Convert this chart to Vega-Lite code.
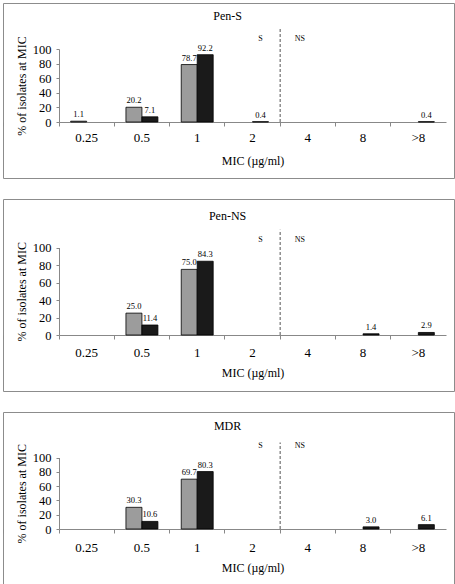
{
  "$schema": "https://vega.github.io/schema/vega-lite/v6.json",
  "padding": {"top": 2, "left": 2, "right": 0, "bottom": 0},
  "spacing": 19,
  "config": {
    "font": "Liberation Serif",
    "view": {"stroke": "#8c8c8c", "strokeWidth": 1},
    "axis": {"labelColor": "#000", "titleColor": "#000", "titleFontWeight": "normal", "domainColor": "#888", "tickColor": "#888", "grid": false, "labelFont": "Liberation Serif", "titleFont": "Liberation Serif"},
    "axisY": {"labelOverlap": false, "labelBound": false, "labelSeparation": -20, "tickCount": 5, "labelFontSize": 12.5, "tickSize": 3, "labelPadding": 5, "titleFontSize": 12, "titleX": -37.3, "titleBaseline": "middle", "offset": -56}
  },
  "datasets": {
    "bars": [
      {"panel": "Pen-S", "mic": "0.25", "series": "s1", "value": 1.1},
      {"panel": "Pen-S", "mic": "0.5", "series": "s1", "value": 20.2},
      {"panel": "Pen-S", "mic": "1", "series": "s1", "value": 78.7},
      {"panel": "Pen-S", "mic": "0.5", "series": "s2", "value": 7.1},
      {"panel": "Pen-S", "mic": "1", "series": "s2", "value": 92.2},
      {"panel": "Pen-S", "mic": "2", "series": "s2", "value": 0.4},
      {"panel": "Pen-S", "mic": ">8", "series": "s2", "value": 0.4},
      {"panel": "Pen-NS", "mic": "0.5", "series": "s1", "value": 25.0},
      {"panel": "Pen-NS", "mic": "1", "series": "s1", "value": 75.0},
      {"panel": "Pen-NS", "mic": "0.5", "series": "s2", "value": 11.4},
      {"panel": "Pen-NS", "mic": "1", "series": "s2", "value": 84.3},
      {"panel": "Pen-NS", "mic": "8", "series": "s2", "value": 1.4},
      {"panel": "Pen-NS", "mic": ">8", "series": "s2", "value": 2.9},
      {"panel": "MDR", "mic": "0.5", "series": "s1", "value": 30.3},
      {"panel": "MDR", "mic": "1", "series": "s1", "value": 69.7},
      {"panel": "MDR", "mic": "0.5", "series": "s2", "value": 10.6},
      {"panel": "MDR", "mic": "1", "series": "s2", "value": 80.3},
      {"panel": "MDR", "mic": "8", "series": "s2", "value": 3.0},
      {"panel": "MDR", "mic": ">8", "series": "s2", "value": 6.1}
    ],
    "zones": [
      {"mic": "2", "series": "s2", "label": "S"},
      {"mic": "4", "series": "s1", "label": "NS"}
    ],
    "cut": [{"mic": "4"}],
    "titles": [
      {"panel": "Pen-S", "mic": "2", "label": "Pen-S"},
      {"panel": "Pen-NS", "mic": "2", "label": "Pen-NS"},
      {"panel": "MDR", "mic": "2", "label": "MDR"}
    ]
  },
  "vconcat": [
    {
      "width": 451, "height": 175,
      "layer": [
        {
          "data": {"name": "bars"},
          "transform": [{"filter": "datum.panel === 'Pen-S'"}],
          "mark": {"type": "bar", "stroke": "#000", "strokeWidth": 0.8},
          "encoding": {
            "x": {"field": "mic", "type": "nominal", "sort": null,
              "scale": {"domain": ["0.25", "0.5", "1", "2", "4", "8", ">8"], "range": [56, 443], "paddingInner": 0, "paddingOuter": 0},
              "axis": {"title": "MIC (µg/ml)", "labelAngle": 0, "bandPosition": 0, "tickExtra": true, "offset": -56, "tickSize": 4, "labelPadding": 5.5, "labelFontSize": 13, "titleFontSize": 12, "titleY": 38.3, "titleBaseline": "middle"}},
            "xOffset": {"field": "series", "scale": {"domain": ["s1", "s2"], "paddingInner": 0, "paddingOuter": 0.73}},
            "y": {"field": "value", "type": "quantitative",
              "scale": {"domain": [0, 100], "range": [119, 46], "nice": false},
              "axis": {"title": "% of isolates at MIC", "labelOverlap": false}},
            "color": {"field": "series", "scale": {"domain": ["s1", "s2"], "range": ["#9c9c9c", "#1a1a1a"]}, "legend": null}
          }
        },
        {
          "data": {"name": "bars"},
          "transform": [{"filter": "datum.panel === 'Pen-S'"}],
          "mark": {"type": "text", "fontSize": 8.5, "baseline": "bottom", "dy": -2, "fill": "#000"},
          "encoding": {
            "x": {"field": "mic", "type": "nominal"},
            "xOffset": {"field": "series"},
            "y": {"field": "value", "type": "quantitative"},
            "text": {"field": "value", "type": "quantitative", "format": ".1f"}
          }
        },
        {
          "data": {"name": "cut"},
          "mark": {"type": "rule", "strokeDash": [3, 2], "color": "#555", "strokeWidth": 1},
          "encoding": {
            "x": {"field": "mic", "type": "nominal", "bandPosition": 0},
            "y": {"datum": 0},
            "y2": {"datum": 127.4}
          }
        },
        {
          "data": {"name": "zones"},
          "mark": {"type": "text", "fontSize": 8, "fill": "#000"},
          "encoding": {
            "x": {"field": "mic", "type": "nominal"},
            "xOffset": {"field": "series"},
            "y": {"datum": 113.3},
            "text": {"field": "label"}
          }
        },
        {
          "data": {"name": "titles"},
          "transform": [{"filter": "datum.panel === 'Pen-S'"}],
          "mark": {"type": "text", "fontSize": 12, "fill": "#000"},
          "encoding": {
            "x": {"field": "mic", "type": "nominal", "bandPosition": 0.05},
            "y": {"datum": 145},
            "text": {"field": "label"}
          }
        }
      ]
    },
    {
      "width": 451, "height": 192,
      "layer": [
        {
          "data": {"name": "bars"},
          "transform": [{"filter": "datum.panel === 'Pen-NS'"}],
          "mark": {"type": "bar", "stroke": "#000", "strokeWidth": 0.8},
          "encoding": {
            "x": {"field": "mic", "type": "nominal", "sort": null,
              "scale": {"domain": ["0.25", "0.5", "1", "2", "4", "8", ">8"], "range": [56, 443], "paddingInner": 0, "paddingOuter": 0},
              "axis": {"title": "MIC (µg/ml)", "labelAngle": 0, "bandPosition": 0, "tickExtra": true, "offset": -56, "tickSize": 4, "labelPadding": 7, "labelFontSize": 13, "titleFontSize": 12, "titleY": 37.3, "titleBaseline": "middle"}},
            "xOffset": {"field": "series", "scale": {"domain": ["s1", "s2"], "paddingInner": 0, "paddingOuter": 0.73}},
            "y": {"field": "value", "type": "quantitative",
              "scale": {"domain": [0, 100], "range": [136, 48.5], "nice": false},
              "axis": {"title": "% of isolates at MIC", "labelOverlap": false}},
            "color": {"field": "series", "scale": {"domain": ["s1", "s2"], "range": ["#9c9c9c", "#1a1a1a"]}, "legend": null}
          }
        },
        {
          "data": {"name": "bars"},
          "transform": [{"filter": "datum.panel === 'Pen-NS'"}],
          "mark": {"type": "text", "fontSize": 8.5, "baseline": "bottom", "dy": -2, "fill": "#000"},
          "encoding": {
            "x": {"field": "mic", "type": "nominal"},
            "xOffset": {"field": "series"},
            "y": {"field": "value", "type": "quantitative"},
            "text": {"field": "value", "type": "quantitative", "format": ".1f"}
          }
        },
        {
          "data": {"name": "cut"},
          "mark": {"type": "rule", "strokeDash": [3, 2], "color": "#555", "strokeWidth": 1},
          "encoding": {
            "x": {"field": "mic", "type": "nominal", "bandPosition": 0},
            "y": {"datum": 0},
            "y2": {"datum": 120.3}
          }
        },
        {
          "data": {"name": "zones"},
          "mark": {"type": "text", "fontSize": 8, "fill": "#000"},
          "encoding": {
            "x": {"field": "mic", "type": "nominal"},
            "xOffset": {"field": "series"},
            "y": {"datum": 109},
            "text": {"field": "label"}
          }
        },
        {
          "data": {"name": "titles"},
          "transform": [{"filter": "datum.panel === 'Pen-NS'"}],
          "mark": {"type": "text", "fontSize": 12, "fill": "#000"},
          "encoding": {
            "x": {"field": "mic", "type": "nominal", "bandPosition": 0.05},
            "y": {"datum": 135.7},
            "text": {"field": "label"}
          }
        }
      ]
    },
    {
      "width": 451, "height": 174,
      "layer": [
        {
          "data": {"name": "bars"},
          "transform": [{"filter": "datum.panel === 'MDR'"}],
          "mark": {"type": "bar", "stroke": "#000", "strokeWidth": 0.8},
          "encoding": {
            "x": {"field": "mic", "type": "nominal", "sort": null,
              "scale": {"domain": ["0.25", "0.5", "1", "2", "4", "8", ">8"], "range": [56, 443], "paddingInner": 0, "paddingOuter": 0},
              "axis": {"title": "MIC (µg/ml)", "labelAngle": 0, "bandPosition": 0, "tickExtra": true, "offset": -57, "tickSize": 4, "labelPadding": 8, "labelFontSize": 13, "titleFontSize": 12, "titleY": 38, "titleBaseline": "middle"}},
            "xOffset": {"field": "series", "scale": {"domain": ["s1", "s2"], "paddingInner": 0, "paddingOuter": 0.73}},
            "y": {"field": "value", "type": "quantitative",
              "scale": {"domain": [0, 100], "range": [117, 45.5], "nice": false},
              "axis": {"title": "% of isolates at MIC", "labelOverlap": false}},
            "color": {"field": "series", "scale": {"domain": ["s1", "s2"], "range": ["#9c9c9c", "#1a1a1a"]}, "legend": null}
          }
        },
        {
          "data": {"name": "bars"},
          "transform": [{"filter": "datum.panel === 'MDR'"}],
          "mark": {"type": "text", "fontSize": 8.5, "baseline": "bottom", "dy": -2, "fill": "#000"},
          "encoding": {
            "x": {"field": "mic", "type": "nominal"},
            "xOffset": {"field": "series"},
            "y": {"field": "value", "type": "quantitative"},
            "text": {"field": "value", "type": "quantitative", "format": ".1f"}
          }
        },
        {
          "data": {"name": "cut"},
          "mark": {"type": "rule", "strokeDash": [3, 2], "color": "#555", "strokeWidth": 1},
          "encoding": {
            "x": {"field": "mic", "type": "nominal", "bandPosition": 0},
            "y": {"datum": 0},
            "y2": {"datum": 121}
          }
        },
        {
          "data": {"name": "zones"},
          "mark": {"type": "text", "fontSize": 8, "fill": "#000"},
          "encoding": {
            "x": {"field": "mic", "type": "nominal"},
            "xOffset": {"field": "series"},
            "y": {"datum": 115.7},
            "text": {"field": "label"}
          }
        },
        {
          "data": {"name": "titles"},
          "transform": [{"filter": "datum.panel === 'MDR'"}],
          "mark": {"type": "text", "fontSize": 12, "fill": "#000"},
          "encoding": {
            "x": {"field": "mic", "type": "nominal", "bandPosition": 0.05},
            "y": {"datum": 143.6},
            "text": {"field": "label"}
          }
        }
      ]
    }
  ]
}
